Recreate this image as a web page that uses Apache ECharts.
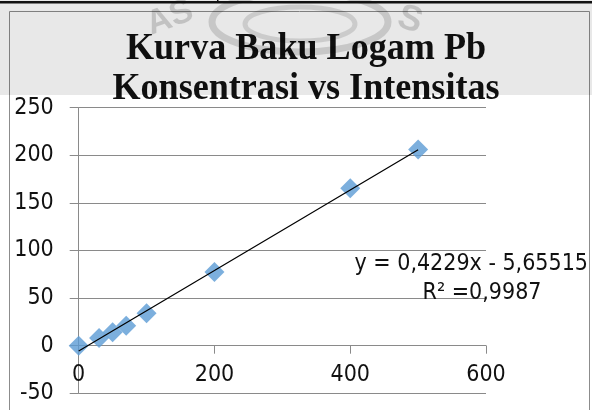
<!DOCTYPE html>
<html>
<head>
<meta charset="utf-8">
<script src="https://cdn.jsdelivr.net/npm/echarts@6/dist/echarts.min.js"></script>
<style>html,body{margin:0;padding:0;background:#fff;}#c{width:599px;height:410px;}</style>
</head>
<body>
<div id="c"></div>
<script>
// Data
var konsentrasi = [0, 30, 50, 70, 100, 200, 400, 500];
var intensitas  = [0, 8, 14, 21, 34, 77.5, 165.5, 206];
// Trendline (from the reference equation)
var trendSlope = 0.4229;
var trendIntercept = -5.65515;
var trendX = [0, 500];
var titleLines = ['Kurva Baku Logam Pb', 'Konsentrasi vs Intensitas'];
var eqText = 'y = 0,4229x - 5,65515';
var r2Text = 'R\u00b2 =0,9987';
var xTicks = [0, 200, 400, 600];
var yTicks = [-50, 0, 50, 100, 150, 200, 250];

var pts = konsentrasi.map(function (x, i) { return [x, intensitas[i]]; });
var trend = trendX.map(function (x) { return [x, trendSlope * x + trendIntercept]; });

var lblFont = '"DejaVu Sans Condensed", "Liberation Sans Narrow", "Liberation Sans", sans-serif';

var chart = echarts.init(document.getElementById('c'), null, {renderer: 'canvas'});
chart.setOption({
  animation: false,
  backgroundColor: '#fff',
  grid: {left: 78.7, right: 113, top: 107.7, bottom: 16.7, containLabel: false, outerBoundsMode: 'none'},
  xAxis: {
    type: 'value', min: xTicks[0], max: xTicks[xTicks.length - 1], interval: 200,
    position: 'bottom', offset: -47.6,
    axisLine: {show: true, onZero: false, lineStyle: {color: '#8a8a8a', width: 1}},
    axisTick: {show: true, length: 8, lineStyle: {color: '#8a8a8a'}},
    axisLabel: {margin: 18, color: '#111', fontSize: 23, fontFamily: lblFont},
    splitLine: {show: false}
  },
  yAxis: {
    type: 'value', min: yTicks[0], max: yTicks[yTicks.length - 1], interval: 50,
    axisLine: {show: true, onZero: false, lineStyle: {color: '#8a8a8a', width: 1}},
    axisTick: {show: true, length: 9, lineStyle: {color: '#8a8a8a'}},
    axisLabel: {margin: 25, color: '#111', fontSize: 23, fontFamily: lblFont, padding: [0, 0, 4, 0]},
    splitLine: {show: true, lineStyle: {color: '#8a8a8a', width: 1}}
  },
  series: [
    {
      type: 'scatter', data: pts, symbol: 'diamond', symbolSize: 20,
      itemStyle: {color: '#5B9BD5'}, z: 3
    },
    {
      type: 'line', data: trend, showSymbol: false, symbol: 'none',
      lineStyle: {color: '#000', width: 1.2}, z: 4
    }
  ],
  graphic: [
    // chart area border
    {type: 'rect', shape: {x: 9.5, y: 11.5, width: 580, height: 420}, style: {fill: null, stroke: '#8c8c8c', lineWidth: 1}, z: 1},
    // document table lines at top
    {type: 'rect', shape: {x: 0, y: 1, width: 592, height: 2.5}, style: {fill: '#111'}, z: 200},
    {type: 'rect', shape: {x: 217, y: 0, width: 1.5, height: 3}, style: {fill: '#111'}, z: 200},
    // title
    {type: 'text', x: 306, y: 49, scaleX: 0.95, style: {text: titleLines[0], textAlign: 'center', textVerticalAlign: 'middle', font: 'bold 38px "Liberation Serif", "Times New Roman", serif', fill: '#111'}, z: 50},
    {type: 'text', x: 306, y: 89, scaleX: 0.95, style: {text: titleLines[1], textAlign: 'center', textVerticalAlign: 'middle', font: 'bold 38px "Liberation Serif", "Times New Roman", serif', fill: '#111'}, z: 50},
    // trendline equation
    {type: 'text', x: 588, y: 264, style: {text: eqText, textAlign: 'right', textVerticalAlign: 'middle', font: '23px ' + lblFont, fill: '#111'}, z: 50},
    {type: 'text', x: 482, y: 293, style: {text: r2Text, textAlign: 'center', textVerticalAlign: 'middle', font: '23px ' + lblFont, fill: '#111'}, z: 50},
    // watermark band
    {type: 'text', x: 170, y: 18, rotation: 0.35, style: {text: 'AS', textAlign: 'center', textVerticalAlign: 'middle', font: 'bold 34px "Liberation Sans", sans-serif', fill: 'rgba(0,0,0,0.16)'}, z: 90},
    {type: 'text', x: 410, y: 20, rotation: -0.3, style: {text: 'S', textAlign: 'center', textVerticalAlign: 'middle', font: 'bold 36px "Liberation Sans", sans-serif', fill: 'rgba(0,0,0,0.16)'}, z: 90},
    {type: 'ellipse', shape: {cx: 300, cy: 22, rx: 88, ry: 30}, style: {fill: null, stroke: 'rgba(0,0,0,0.14)', lineWidth: 7}, z: 90},
    {type: 'ellipse', shape: {cx: 300, cy: 24, rx: 55, ry: 17}, style: {fill: null, stroke: 'rgba(0,0,0,0.12)', lineWidth: 5}, z: 90},
    {type: 'rect', shape: {x: 0, y: 0, width: 592, height: 95}, style: {fill: 'rgba(0,0,0,0.09)'}, z: 100}
  ]
});
</script>
</body>
</html>
